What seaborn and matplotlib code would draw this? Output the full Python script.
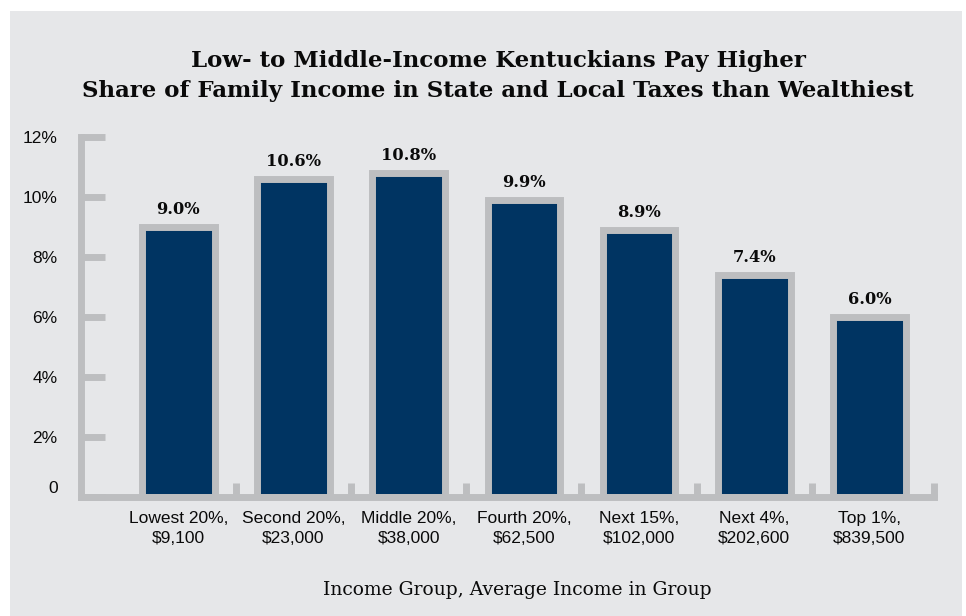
import matplotlib
matplotlib.use("Agg")
import matplotlib.pyplot as plt
import matplotlib.transforms as mtransforms
import seaborn as sns
import numpy as np
import pandas as pd
from matplotlib.patches import Rectangle

# ---- data ----
groups = ["Lowest 20%,\n$9,100", "Second 20%,\n$23,000", "Middle 20%,\n$38,000",
          "Fourth 20%,\n$62,500", "Next 15%,\n$102,000", "Next 4%,\n$202,600",
          "Top 1%,\n$839,500"]
shares = [9.0, 10.6, 10.8, 9.9, 8.9, 7.4, 6.0]
yticks = [0, 2, 4, 6, 8, 10, 12]
ytick_labels = ["0", "2%", "4%", "6%", "8%", "10%", "12%"]
title_lines = ["Low- to Middle-Income Kentuckians Pay Higher",
               "Share of Family Income in State and Local Taxes than Wealthiest"]
xlabel = "Income Group, Average Income in Group"

# ---- style ----
BG = "#e6e7e9"
NAVY = "#003462"
GRAY = "#bdbec0"
TXT = "#0a0a0a"
W, H = 966, 616

sns.set_theme(style="white")
plt.rcParams["font.family"] = ["Liberation Sans", "DejaVu Sans"]

fig = plt.figure(figsize=(W / 100, H / 100), dpi=100, facecolor="white")
fig.patches.append(Rectangle((10 / W, 0), 952 / W, 605 / H, transform=fig.transFigure,
                             facecolor=BG, edgecolor="none", zorder=-10))

ax = fig.add_axes([81 / W, (H - 496.7) / H, 853.5 / W, 360 / H])
ax.set_facecolor("none")
ax.set_zorder(5)

df = pd.DataFrame({"group": groups, "share": shares})
sns.barplot(data=df, x="group", y="share", color=NAVY, saturation=1,
            edgecolor=GRAY, linewidth=5, width=0.63, ax=ax, zorder=2)

n = len(groups)
xmin, xmax = -0.844, 6.565
ax.set_xlim(xmin, xmax)
ax.set_ylim(0, 12)

# value labels
for i, v in enumerate(shares):
    ax.annotate(f"{v:.1f}%", (i, v), xytext=(0, 9), textcoords="offset points",
                ha="center", va="baseline", fontsize=11.7, fontweight="bold",
                family=["DejaVu Serif"], color=TXT)

# spines
for s in ["top", "right"]:
    ax.spines[s].set_visible(False)
for s in ["left", "bottom"]:
    ax.spines[s].set_color(GRAY)
    ax.spines[s].set_linewidth(5)
    ax.spines[s].set_zorder(3)

ax.set_yticks(yticks)
ax.set_yticklabels(ytick_labels)
ax.tick_params(axis="y", direction="in", length=17.3, width=5, color=GRAY,
               pad=16.8, labelsize=12.5, labelcolor=TXT, left=True)
ax.tick_params(axis="x", length=0, pad=10.5, labelsize=12.5, labelcolor=TXT)
ax.set_xticks(range(n))
ax.set_xticklabels(groups, linespacing=1.4)
ax.set_xticks(list(np.arange(n - 1) + 0.5) + [xmax], minor=True)
ax.tick_params(axis="x", which="minor", direction="in", length=10, width=5,
               color=GRAY, bottom=True)
ax.set_xlabel("")
ax.set_ylabel("")

# the "0" label sits a little above its tick in the original
zero_lbl = ax.get_yticklabels()[0]
zero_lbl.set_transform(zero_lbl.get_transform() +
                       mtransforms.ScaledTranslation(0, 7 / 72, fig.dpi_scale_trans))

# title
fig.text(498 / W, 1 - 66.7 / H, title_lines[0], ha="center", va="baseline",
         fontsize=16.5, fontweight="bold", family=["DejaVu Serif"], color=TXT)
fig.text(498 / W, 1 - 96.7 / H, title_lines[1], ha="center", va="baseline",
         fontsize=16.5, fontweight="bold", family=["DejaVu Serif"], color=TXT)
# x label
fig.text(517 / W, 1 - 595 / H, xlabel, ha="center", va="baseline",
         fontsize=13.5, family=["DejaVu Serif"], color=TXT)

fig.savefig("out.png", dpi=100, facecolor="white")
